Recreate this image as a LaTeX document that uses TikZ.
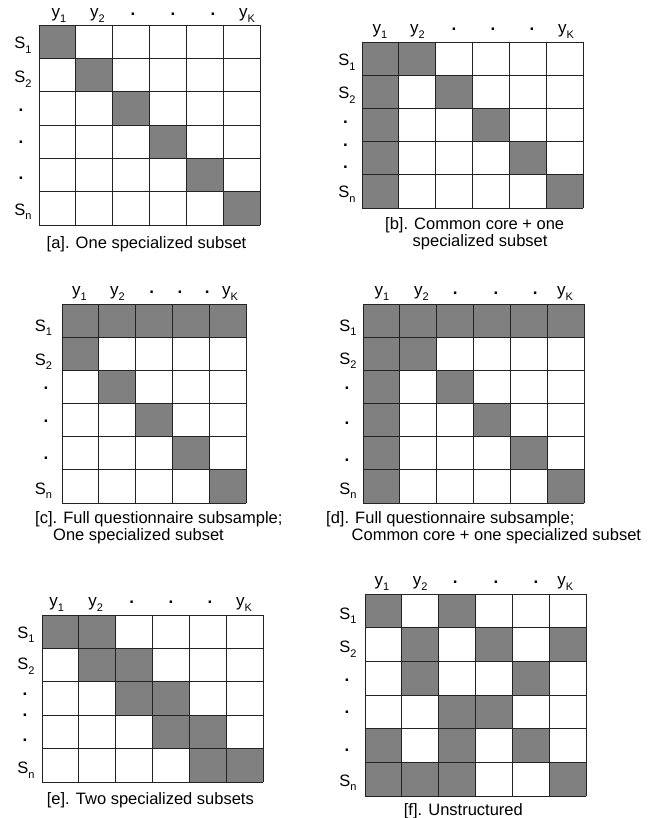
\documentclass[tikz,border=0pt]{standalone}
\usepackage{fontspec}
\setmainfont{Liberation Sans}
\definecolor{cellgray}{RGB}{128,128,128}
\definecolor{linegray}{RGB}{35,35,35}
\newcommand\subs[1]{\raisebox{-0.3em}{\fontsize{11}{11}\selectfont #1}}
\newcommand\ylab[1]{y\subs{#1}}
\newcommand\slab[1]{S\subs{#1}}
\tikzset{
  gridline/.style={draw=linegray, line width=0.9pt, line cap=rect},
  clab/.style={font=\fontsize{17}{18}\selectfont, inner sep=0pt, anchor=base},
  rlab/.style={font=\fontsize{16.5}{18}\selectfont, inner sep=0pt, anchor=base, yshift=-6pt},
  dotlab/.style={font=\fontsize{17}{18}\selectfont\bfseries, inner sep=0pt, anchor=center},
  capt/.style={font=\fontsize{16.5}{17.5}\selectfont, inner sep=0pt, anchor=base west, align=left},
}
% #1 x0, #2 y0, #3 x1, #4 y1, #5 ncols, #6 nrows, #7 shaded cells col/row
\newcommand\mgrid[7]{%
  \pgfmathsetmacro\cw{(#3-#1)/#5}%
  \pgfmathsetmacro\rh{(#4-#2)/#6}%
  \begin{scope}[shift={(#1,#2)}, x=\cw pt, y=-\rh pt]
    \foreach \cc/\rr in {#7} \fill[cellgray] (\cc-1,\rr-1) rectangle (\cc,\rr);
    \foreach \i in {0,...,#5} \draw[gridline] (\i,0) -- (\i,#6);
    \foreach \j in {0,...,#6} \draw[gridline] (0,\j) -- (#5,\j);
  \end{scope}}
% #1 name, #2 baseline, #3 dot y, #4..#9 x positions
\newcommand\collabels[9]{%
  \node[clab] (#1-c1) at (#4,#2) {\ylab{1}};
  \node[clab] (#1-c2) at (#5,#2) {\ylab{2}};
  \node[dotlab] (#1-c3) at (#6,#3) {.};
  \node[dotlab] (#1-c4) at (#7,#3) {.};
  \node[dotlab] (#1-c5) at (#8,#3) {.};
  \node[clab] (#1-c6) at (#9,#2) {\ylab{K}};}
% #1 name, #2 x of S labels, #3 x of dots, #4..#9 y positions
\newcommand\rowlabels[9]{%
  \node[rlab] (#1-r1) at (#2,#4) {\slab{1}};
  \node[rlab] (#1-r2) at (#2,#5) {\slab{2}};
  \node[dotlab] (#1-r3) at (#3,#6) {.};
  \node[dotlab] (#1-r4) at (#3,#7) {.};
  \node[dotlab] (#1-r5) at (#3,#8) {.};
  \node[rlab] (#1-r6) at (#2,#9) {\slab{n}};}
\begin{document}
\begin{tikzpicture}[x=1pt, y=-1pt]
\useasboundingbox[fill=white] (0,0) rectangle (664,818);
% [a]
\mgrid{39}{25}{260}{225}{6}{6}{1/1,2/2,3/3,4/4,5/5,6/6}
\collabels{a}{17.5}{14.5}{59}{97.5}{133}{173}{213}{247}
\rowlabels{a}{23}{21}{43}{77}{110}{142}{178}{209}
\node[capt] (a-cap) at (46.5,248.5) {[a]. One specialized subset};
% [b]
\mgrid{362}{42}{583}{208}{6}{5}{1/1,2/1,1/2,3/2,1/3,4/3,1/4,5/4,1/5,6/5}
\collabels{b}{33.5}{29.5}{380}{417.5}{454}{493}{532}{566}
\rowlabels{b}{347}{345.5}{60}{93}{122}{145}{167}{192}
\node[capt] (b-cap) at (385,247) {[b]. Common core + one\\\hspace*{27.5pt}specialized subset};
% [c]
\mgrid{62}{304}{246}{503}{5}{6}{1/1,2/1,3/1,4/1,5/1,1/2,2/3,3/4,4/5,5/6}
\collabels{c}{295.5}{292.7}{79.5}{117.5}{151.7}{180}{207.3}{230}
\rowlabels{c}{43.5}{46}{325}{359}{388.3}{421}{458.3}{488}
\node[capt] (c-cap) at (35,540.5) {[c]. Full questionnaire subsample;\\\hspace*{18pt}One specialized subset};
% [d]
\mgrid{363}{304}{584}{503}{6}{6}{1/1,2/1,3/1,4/1,5/1,6/1,1/2,2/2,1/3,3/3,1/4,4/4,1/5,5/5,1/6,6/6}
\collabels{d}{295.5}{293}{382}{421.5}{455.3}{496}{535.3}{565}
\rowlabels{d}{348}{347}{325}{358}{388}{423}{460}{488}
\node[capt] (d-cap) at (326,540.5) {[d]. Full questionnaire subsample;\\\hspace*{25.5pt}Common core + one specialized subset};
% [e]
\mgrid{42}{615}{263}{782}{6}{5}{1/1,2/1,2/2,3/2,3/3,4/3,4/4,5/4,5/5,6/5}
\collabels{e}{606.5}{602}{56.7}{95.7}{131.7}{171}{210}{244}
\rowlabels{e}{26}{25}{632}{663.3}{694}{715}{740}{767.7}
\node[capt] (e-cap) at (46.7,804) {[e]. Two specialized subsets};
% [f]
\mgrid{365}{594}{586}{796}{6}{6}{1/1,3/1,2/2,4/2,6/2,2/3,5/3,3/4,4/4,1/5,3/5,5/5,1/6,2/6,3/6,6/6}
\collabels{f}{585}{582.7}{382}{420.3}{455.3}{496}{536}{565.3}
\rowlabels{f}{348}{347}{613}{646.7}{680}{712.7}{750}{780}
\node[capt] (f-cap) at (403.7,815) {[f]. Unstructured};
\end{tikzpicture}
\end{document}
